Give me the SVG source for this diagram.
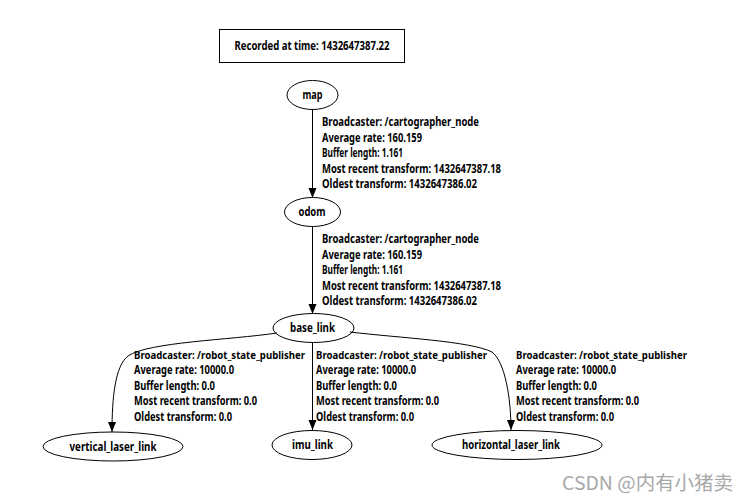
<svg xmlns="http://www.w3.org/2000/svg" width="748" height="501" viewBox="0 0 748 501">
<style>
  .node ellipse { fill: none; stroke: #000; stroke-width: 1; }
  .nt { font-family: "Noto Sans", "Liberation Sans", Arial, sans-serif; font-weight: bold; font-size: 12px; fill: #000; text-anchor: middle; }
  .lt { font-family: "Noto Sans", "Liberation Sans", Arial, sans-serif; font-weight: bold; font-size: 11.5px; fill: #000; }
  .lt.b { font-size: 10.2px; }
  .edge { fill: none; stroke: #000; stroke-width: 1; marker-end: url(#arr); }
  .wm { font-family: "Noto Sans CJK SC", "Noto Sans", sans-serif; font-size: 19px; fill: #a8a8a8; }
</style>
<defs>
  <marker id="arr" markerUnits="userSpaceOnUse" markerWidth="10" markerHeight="10" refX="10" refY="4" orient="auto">
    <path d="M0,0 L10,4 L0,8 Z" fill="#000"/>
  </marker>
</defs>
<rect width="748" height="501" fill="#fff"/>

<g id="title">
  <rect x="219.5" y="29.5" width="185" height="33" fill="#fff" stroke="#000"/>
  <text class="nt" x="312" y="50" textLength="155" lengthAdjust="spacingAndGlyphs">Recorded at time: 1432647387.22</text>
</g>

<g id="connectors">
  <path class="edge" d="M312.5,109 L312.5,198"/>
  <path class="edge" d="M312.5,226 L312.5,314"/>
  <path class="edge" d="M277,333 C230,340 148,342 128,356 C115,366 112,398 112,432"/>
  <path class="edge" d="M312.5,342 L312.5,430"/>
  <path class="edge" d="M350,332 C400,338 470,341 492,352 C505,362 511,398 511,430"/>
</g>

<g id="labels">
  <g id="label_map_odom">
    <text class="lt" x="322" y="126" textLength="157" lengthAdjust="spacingAndGlyphs">Broadcaster: /cartographer_node</text>
    <text class="lt" x="322" y="141.5" textLength="100" lengthAdjust="spacingAndGlyphs">Average rate: 160.159</text>
    <text class="lt" x="322" y="157" textLength="81" lengthAdjust="spacingAndGlyphs">Buffer length: 1.161</text>
    <text class="lt" x="322" y="172.5" textLength="179" lengthAdjust="spacingAndGlyphs">Most recent transform: 1432647387.18</text>
    <text class="lt" x="322" y="188" textLength="155" lengthAdjust="spacingAndGlyphs">Oldest transform: 1432647386.02</text>
  </g>
  <g id="label_odom_base">
    <text class="lt" x="322" y="243" textLength="157" lengthAdjust="spacingAndGlyphs">Broadcaster: /cartographer_node</text>
    <text class="lt" x="322" y="258.5" textLength="100" lengthAdjust="spacingAndGlyphs">Average rate: 160.159</text>
    <text class="lt" x="322" y="274" textLength="81" lengthAdjust="spacingAndGlyphs">Buffer length: 1.161</text>
    <text class="lt" x="322" y="289.5" textLength="179" lengthAdjust="spacingAndGlyphs">Most recent transform: 1432647387.18</text>
    <text class="lt" x="322" y="305" textLength="155" lengthAdjust="spacingAndGlyphs">Oldest transform: 1432647386.02</text>
  </g>
  <g id="label_base_vertical">
    <text class="lt b" x="134" y="358.5" textLength="171" lengthAdjust="spacingAndGlyphs">Broadcaster: /robot_state_publisher</text>
    <text class="lt" x="134" y="374" textLength="100" lengthAdjust="spacingAndGlyphs">Average rate: 10000.0</text>
    <text class="lt" x="134" y="389.5" textLength="81" lengthAdjust="spacingAndGlyphs">Buffer length: 0.0</text>
    <text class="lt" x="134" y="405" textLength="123" lengthAdjust="spacingAndGlyphs">Most recent transform: 0.0</text>
    <text class="lt" x="134" y="420.5" textLength="98" lengthAdjust="spacingAndGlyphs">Oldest transform: 0.0</text>
  </g>
  <g id="label_base_imu">
    <text class="lt b" x="316" y="358.5" textLength="171" lengthAdjust="spacingAndGlyphs">Broadcaster: /robot_state_publisher</text>
    <text class="lt" x="316" y="374" textLength="100" lengthAdjust="spacingAndGlyphs">Average rate: 10000.0</text>
    <text class="lt" x="316" y="389.5" textLength="81" lengthAdjust="spacingAndGlyphs">Buffer length: 0.0</text>
    <text class="lt" x="316" y="405" textLength="123" lengthAdjust="spacingAndGlyphs">Most recent transform: 0.0</text>
    <text class="lt" x="316" y="420.5" textLength="98" lengthAdjust="spacingAndGlyphs">Oldest transform: 0.0</text>
  </g>
  <g id="label_base_horizontal">
    <text class="lt b" x="516" y="358.5" textLength="171" lengthAdjust="spacingAndGlyphs">Broadcaster: /robot_state_publisher</text>
    <text class="lt" x="516" y="374" textLength="100" lengthAdjust="spacingAndGlyphs">Average rate: 10000.0</text>
    <text class="lt" x="516" y="389.5" textLength="81" lengthAdjust="spacingAndGlyphs">Buffer length: 0.0</text>
    <text class="lt" x="516" y="405" textLength="123" lengthAdjust="spacingAndGlyphs">Most recent transform: 0.0</text>
    <text class="lt" x="516" y="420.5" textLength="98" lengthAdjust="spacingAndGlyphs">Oldest transform: 0.0</text>
  </g>
</g>

<g id="map" class="node">
  <ellipse cx="312.5" cy="95" rx="25.5" ry="14.5"/>
  <text class="nt" x="312.5" y="99" textLength="20" lengthAdjust="spacingAndGlyphs">map</text>
</g>
<g id="odom" class="node">
  <ellipse cx="312.5" cy="212" rx="28" ry="14.5"/>
  <text class="nt" x="312" y="216" textLength="27" lengthAdjust="spacingAndGlyphs">odom</text>
</g>
<g id="base_link" class="node">
  <ellipse cx="313.5" cy="328" rx="40.5" ry="14.5"/>
  <text class="nt" x="312.5" y="332" textLength="45" lengthAdjust="spacingAndGlyphs">base_link</text>
</g>
<g id="vertical_laser_link" class="node">
  <ellipse cx="113" cy="446.5" rx="70" ry="14.5"/>
  <text class="nt" x="113" y="450.5" textLength="87" lengthAdjust="spacingAndGlyphs">vertical_laser_link</text>
</g>
<g id="imu_link" class="node">
  <ellipse cx="312" cy="445" rx="40" ry="14.5"/>
  <text class="nt" x="312.5" y="449" textLength="41" lengthAdjust="spacingAndGlyphs">imu_link</text>
</g>
<g id="horizontal_laser_link" class="node">
  <ellipse cx="517" cy="445" rx="85" ry="14.5"/>
  <text class="nt" x="511" y="449" textLength="98" lengthAdjust="spacingAndGlyphs">horizontal_laser_link</text>
</g>

<text class="wm" x="562" y="490" textLength="171" lengthAdjust="spacingAndGlyphs">CSDN @内有小猪卖</text>
</svg>
